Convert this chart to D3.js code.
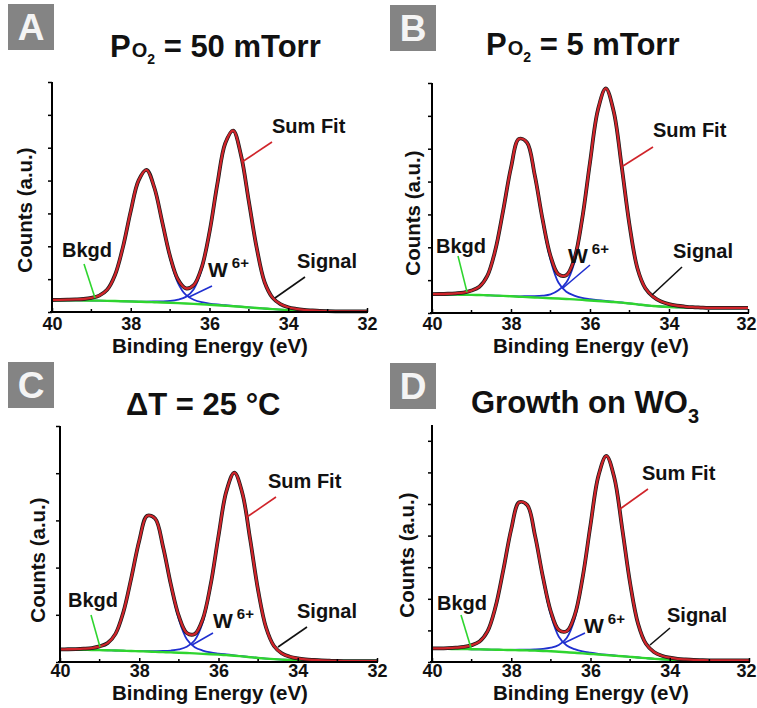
<!DOCTYPE html>
<meta charset="utf-8">
<html>
<head>
<style>
  body { margin: 0; background: #fff; }
  svg text { font-family: "Liberation Sans", Arial, sans-serif; font-weight: bold; fill: #111; }
</style>
</head>
<body>
<div id="chart"></div>
<script src="https://d3js.org/d3.v7.min.js"></script>
<script>
// binding energy grid (eV)
var energy = [40.0,39.8,39.6,39.4,39.2,39.0,38.8,38.6,38.4,38.2,38.0,37.8,37.6,37.4,37.2,37.0,36.8,36.6,36.4,36.2,
              36.0,35.8,35.6,35.4,35.2,35.0,34.8,34.6,34.4,34.2,34.0,33.8,33.6,33.4,33.2,33.0,32.8,32.6,32.4,32.2,32.0];

// A: PO2 = 50 mTorr
var bkgdA = [0.360,0.359,0.357,0.355,0.352,0.349,0.345,0.340,0.334,0.327,0.320,0.313,0.306,0.298,0.290,0.281,0.271,0.260,0.248,0.235,
             0.220,0.205,0.190,0.175,0.158,0.140,0.122,0.105,0.088,0.072,0.058,0.046,0.036,0.028,0.023,0.020,0.020,0.020,0.020,0.020,0.020];
var f72A = [0,0,0,0,0,0,0,0,0,0,0.002,0.005,0.012,0.023,0.035,0.058,0.107,0.20,0.445,1.05,
            2.17,3.67,4.93,5.34,4.61,3.22,1.82,0.80,0.35,0.17,0.086,0.05,0.03,0.02,0.01,0.005,0,0,0,0,0];
var f52A = [0.005,0.009,0.017,0.027,0.044,0.080,0.153,0.334,0.79,1.64,2.75,3.69,4.01,3.46,2.41,1.35,0.61,0.26,0.125,0.064,
            0.038,0.023,0.015,0.008,0.004,0,0,0,0,0,0,0,0,0,0,0,0,0,0,0,0];

// B: PO2 = 5 mTorr
var bkgdB = [0.565,0.563,0.561,0.558,0.555,0.551,0.547,0.540,0.530,0.520,0.508,0.496,0.484,0.472,0.461,0.450,0.440,0.428,0.414,0.398,
             0.382,0.366,0.350,0.336,0.315,0.290,0.264,0.235,0.215,0.198,0.184,0.174,0.167,0.162,0.158,0.156,0.155,0.155,0.155,0.155,0.155];
var f72B = [0,0,0,0,0,0,0,0,0,0,0.006,0.013,0.026,0.039,0.065,0.116,0.25,0.50,1.10,2.39,
            4.16,5.79,6.47,5.79,4.16,2.39,1.10,0.52,0.28,0.15,0.085,0.05,0.03,0.015,0.008,0,0,0,0,0,0];
var f52B = [0.010,0.015,0.025,0.042,0.068,0.132,0.254,0.587,1.37,2.59,3.91,4.79,4.69,3.69,2.32,1.17,0.489,0.220,0.117,0.061,
            0.039,0.024,0.015,0.007,0.004,0,0,0,0,0,0,0,0,0,0,0,0,0,0,0,0];

// C: dT = 25 C
var bkgdC = [0.262,0.261,0.259,0.257,0.255,0.252,0.248,0.244,0.239,0.233,0.227,0.221,0.215,0.210,0.204,0.197,0.190,0.182,0.173,0.165,
             0.156,0.145,0.133,0.118,0.102,0.086,0.072,0.060,0.050,0.042,0.036,0.031,0.027,0.024,0.022,0.021,0.020,0.020,0.020,0.020,0.020];
var f72C = [0,0,0,0,0,0,0,0,0,0,0.004,0.008,0.015,0.023,0.039,0.070,0.132,0.279,0.658,1.43,
            2.49,3.46,3.87,3.46,2.49,1.43,0.658,0.279,0.132,0.070,0.039,0.023,0.015,0.008,0.004,0,0,0,0,0,0];
var f52C = [0.006,0.009,0.015,0.025,0.041,0.079,0.152,0.352,0.820,1.55,2.34,2.87,2.81,2.21,1.39,0.703,0.293,0.132,0.070,0.037,
            0.023,0.015,0.009,0.004,0.002,0,0,0,0,0,0,0,0,0,0,0,0,0,0,0,0];

// D: growth on WO3
var bkgdD = [0.420,0.418,0.415,0.412,0.408,0.404,0.399,0.394,0.389,0.384,0.379,0.374,0.368,0.360,0.350,0.338,0.324,0.308,0.291,0.273,
             0.255,0.236,0.218,0.200,0.181,0.162,0.142,0.122,0.102,0.085,0.072,0.063,0.057,0.054,0.053,0.053,0.053,0.053,0.053,0.053,0.053];
var f72D = [0,0,0,0,0,0,0,0,0,0,0.006,0.013,0.025,0.038,0.063,0.113,0.214,0.453,1.07,2.33,
            4.04,5.63,6.29,5.63,4.04,2.33,1.07,0.453,0.214,0.113,0.063,0.038,0.025,0.013,0.006,0,0,0,0,0,0];
var f52D = [0.010,0.014,0.025,0.041,0.067,0.129,0.248,0.572,1.34,2.53,3.82,4.67,4.58,3.60,2.27,1.14,0.477,0.215,0.114,0.060,
            0.038,0.024,0.014,0.007,0.004,0,0,0,0,0,0,0,0,0,0,0,0,0,0,0,0];

var xTicks = [40, 38, 36, 34, 32];
var xMinor = [39, 37, 35, 33];

var panels = [
  {letter: "A", bkgd: bkgdA, f72: f72A, f52: f52A, yMax: 7, yTicks: [0,1,2,3,4,5,6,7],
   x0: 52, x1: 367, yTop: 82, yBot: 312, box: [8, 4], tickY: 330, labY: 353, labX: 210, ylab: [32, 210], edge: false,
   title: {x: 110, y: 57, parts: [["P", 31, 0, 0], ["O", 20, 0, 1], ["2", 14, 7, 0], [" = 50 mTorr", 31, -7, 0]]},
   sum: [272, 133, 272, 142, 242, 162], bk: [62, 257, 84, 264, 95, 298],
   w6: [208, 277, 212, 286, 189, 297], sig: [297, 268, 305, 277, 275, 298]},
  {letter: "B", bkgd: bkgdB, f72: f72B, f52: f52B, yMax: 7, yTicks: [0,1,2,3,4,5,6,7],
   x0: 432, x1: 748, yTop: 83, yBot: 313, box: [390, 5], tickY: 330, labY: 353, labX: 591, ylab: [420, 213], edge: true,
   title: {x: 486, y: 55, parts: [["P", 31, 0, 0], ["O", 20, 0, 1], ["2", 14, 7, 0], [" = 5 mTorr", 31, -7, 0]]},
   sum: [653, 137, 653, 147, 623, 166], bk: [436, 253, 458, 256, 467, 292],
   w6: [568, 263, 590, 265, 563, 288], sig: [673, 258, 682, 267, 652, 295]},
  {letter: "C", bkgd: bkgdC, f72: f72C, f52: f52C, yMax: 5, yTicks: [0,1,2,3,4,5],
   x0: 60, x1: 377, yTop: 426, yBot: 662, box: [8, 362], tickY: 677, labY: 700, labX: 210, ylab: [45, 560], edge: false,
   title: {x: 126, y: 415, parts: [["\u0394T = 25 \u00b0C", 31, 0, 0]]},
   sum: [268, 488, 276, 497, 247, 517], bk: [68, 607, 91, 615, 100, 647],
   w6: [213, 628, 213, 633, 192, 645], sig: [297, 618, 307, 627, 278, 647]},
  {letter: "D", bkgd: bkgdD, f72: f72D, f52: f52D, yMax: 7.5, yTicks: [0,1,2,3,4,5,6,7],
   x0: 432, x1: 749, yTop: 425, yBot: 662, box: [390, 363], tickY: 677, labY: 700, labX: 591, ylab: [414, 555], edge: true,
   title: {x: 471, y: 413, parts: [["Growth on WO", 31, 0, 0], ["3", 20, 10, 0]]},
   sum: [642, 480, 648, 489, 620, 509], bk: [437, 610, 461, 615, 471, 648],
   w6: [584, 633, 585, 633, 564, 643], sig: [667, 622, 670, 628, 650, 645]}
];

var svg = d3.select("#chart").append("svg")
    .attr("width", 757)
    .attr("height", 708);

panels.forEach(function(p) {
  var x = d3.scaleLinear().domain([40, 32]).range([p.x0, p.x1]);
  var y = d3.scaleLinear().domain([0, p.yMax]).range([p.yBot, p.yTop]);
  var g = svg.append("g");

  var rows = energy.map(function(e, i) {
    return {e: e, bk: p.bkgd[i], c1: p.bkgd[i] + p.f72[i], c2: p.bkgd[i] + p.f52[i],
            fit: p.bkgd[i] + p.f72[i] + p.f52[i]};
  });
  function line(key) {
    return d3.line().curve(d3.curveCatmullRom.alpha(0.5))
      .x(function(d) { return x(d.e); })
      .y(function(d) { return y(d[key]); })(rows);
  }

  // curves: components, background, signal under the sum fit
  g.append("path").attr("d", line("c1")).attr("fill", "none").attr("stroke", "#1f2fd0").attr("stroke-width", 1.8);
  g.append("path").attr("d", line("c2")).attr("fill", "none").attr("stroke", "#1f2fd0").attr("stroke-width", 1.8);
  g.append("path").attr("d", line("bk")).attr("fill", "none").attr("stroke", "#2fd52f").attr("stroke-width", 2.4);
  g.append("path").attr("d", line("fit")).attr("fill", "none").attr("stroke", "#1a1a1a").attr("stroke-width", 3.8);
  g.append("path").attr("d", line("fit")).attr("fill", "none").attr("stroke", "#d0242a").attr("stroke-width", 2.3);

  // axes
  var xAxis = g.append("g").attr("transform", "translate(0," + p.yBot + ")")
    .call(d3.axisBottom(x).tickValues(xTicks).tickSize(-4).tickPadding(0).tickFormat(d3.format("d")));
  xAxis.append("g").selectAll("line").data(xMinor).join("line")
    .attr("x1", function(d) { return x(d); }).attr("x2", function(d) { return x(d); })
    .attr("y1", 0).attr("y2", -3).attr("stroke", "#000").attr("stroke-width", 1.5);
  xAxis.select(".domain").attr("stroke-width", 2).attr("d", "M" + (p.x0 - 2) + ",0H" + (p.x1 + 1));
  xAxis.selectAll(".tick line").attr("stroke-width", 1.5);
  xAxis.selectAll(".tick text").attr("y", p.tickY - p.yBot).attr("dy", 0)
    .style("font-size", "18px").style("font-family", "'Liberation Sans', Arial, sans-serif")
    .style("font-weight", "bold").attr("fill", "#111");
  if (p.edge) {
    // last label sits against the right edge of the figure
    xAxis.selectAll(".tick text").filter(function(d) { return d === 32; })
      .attr("text-anchor", "end").attr("x", 756 - p.x1);
  }

  var yAxis = g.append("g").attr("transform", "translate(" + p.x0 + ",0)")
    .call(d3.axisLeft(y).tickValues(p.yTicks).tickSize(4).tickFormat(""));
  yAxis.select(".domain").attr("stroke-width", 2).attr("d", "M0," + p.yTop + "V" + (p.yBot + 1));
  yAxis.selectAll(".tick line").attr("stroke-width", 1.5);

  // axis titles
  g.append("text").attr("x", p.labX).attr("y", p.labY).attr("text-anchor", "middle")
    .style("font-size", "20.5px").text("Binding Energy (eV)");
  g.append("text").attr("transform", "translate(" + p.ylab[0] + "," + p.ylab[1] + ") rotate(-90)")
    .attr("text-anchor", "middle").style("font-size", "20.5px").text("Counts (a.u.)");

  // panel letter
  g.append("rect").attr("x", p.box[0]).attr("y", p.box[1]).attr("width", 46).attr("height", 46).attr("fill", "#848484");
  g.append("text").attr("x", p.box[0] + 23).attr("y", p.box[1] + 36).attr("text-anchor", "middle")
    .style("font-size", "37px").style("fill", "#f4f4f4").text(p.letter);

  // title
  var t = g.append("text").attr("x", p.title.x).attr("y", p.title.y);
  p.title.parts.forEach(function(q) {
    t.append("tspan").attr("dy", q[2]).attr("dx", q[3]).style("font-size", q[1] + "px").text(q[0]);
  });

  // annotations
  function note(a, label, color) {
    g.append("line").attr("x1", a[2]).attr("y1", a[3]).attr("x2", a[4]).attr("y2", a[5])
      .attr("stroke", color).attr("stroke-width", 1.6);
    if (label) g.append("text").attr("x", a[0]).attr("y", a[1]).style("font-size", "20px").text(label);
  }
  note(p.sum, "Sum Fit", "#d0242a");
  note(p.bk, "Bkgd", "#2fd52f");
  note(p.sig, "Signal", "#111");
  note(p.w6, null, "#1f2fd0");
  var w = g.append("text").attr("x", p.w6[0]).attr("y", p.w6[1]).style("font-size", "21px");
  w.append("tspan").text("W");
  w.append("tspan").attr("dx", 4).attr("dy", -9).style("font-size", "15px").text("6+");
});
</script>
</body>
</html>
